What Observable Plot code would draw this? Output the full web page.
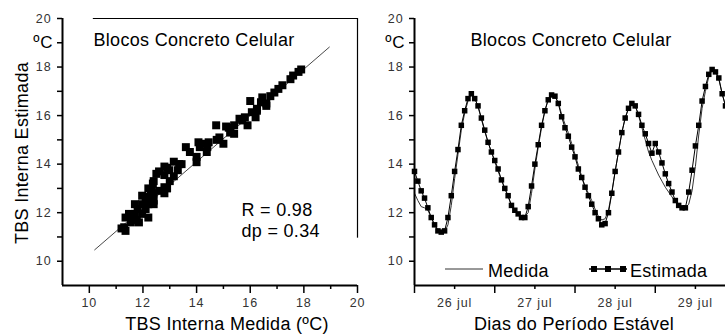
<!DOCTYPE html>
<html>
<head>
<meta charset="utf-8">
<script src="https://cdn.jsdelivr.net/npm/d3@7"></script>
<script src="https://cdn.jsdelivr.net/npm/@observablehq/plot@0.6"></script>
<style>
  html, body { margin: 0; padding: 0; background: #fff; }
  #wrap { display: flex; width: 725px; height: 336px; overflow: hidden; }
  .panel { position: relative; }
  .panel svg { display: block; }
  .legend { position: absolute; left: 0; top: 0; pointer-events: none; }
</style>
</head>
<body>
<div id="wrap">
  <div id="left" class="panel"></div>
  <div id="right" class="panel"></div>
</div>
<script>
// Indoor dry-bulb temperature (TBS, ºC), hourly from 26 jul 00h
const medida = [
  12.8, 12.5, 12.25, 12.2, 12.1, 11.8, 11.5, 11.3, 11.2, 11.2,
  11.5, 12.3, 13.4, 14.4, 15.4, 16.1, 16.6, 16.9, 16.75, 16.35,
  15.85, 15.35, 14.9, 14.5, 14.1, 13.7, 13.35, 13.0, 12.65, 12.3,
  12.05, 11.9, 11.85, 11.85, 12.0, 12.8, 13.8, 14.7, 15.5, 16.2,
  16.7, 16.85, 16.8, 16.55, 16.05, 15.65, 15.3, 14.85, 14.4, 13.95,
  13.5, 13.1, 12.8, 12.5, 12.15, 11.85, 11.7, 11.75, 12.1, 12.85,
  13.7, 14.5, 15.3, 15.9, 16.3, 16.5, 16.4, 16.0, 15.5, 15.0,
  14.5, 14.15, 13.85, 13.55, 13.3, 13.05, 12.85, 12.65, 12.45, 12.3,
  12.2, 12.2, 12.35, 12.9, 13.9, 15.2, 16.3, 17.0, 17.6, 17.9,
  17.85, 17.5, 16.9, 16.4
];
const estimada = [
  13.7, 13.3, 12.9, 12.6, 12.2, 11.8, 11.5, 11.25, 11.2, 11.25,
  11.8, 12.7, 13.7, 14.6, 15.6, 16.2, 16.7, 16.9, 16.7, 16.4,
  15.9, 15.4, 14.9, 14.5, 14.15, 13.8, 13.35, 13.0, 12.7, 12.3,
  12.1, 11.95, 11.8, 11.8, 12.25, 13.1, 14.0, 14.8, 15.6, 16.2,
  16.65, 16.85, 16.8, 16.5, 15.95, 15.5, 15.15, 14.7, 14.3, 13.8,
  13.45, 13.05, 12.7, 12.35, 12.0, 11.75, 11.5, 11.55, 12.0, 12.8,
  13.7, 14.5, 15.3, 15.9, 16.3, 16.5, 16.4, 16.05, 15.6, 15.25,
  14.85, 14.45, 14.85, 14.5, 14.05, 13.6, 13.2, 12.85, 12.5, 12.3,
  12.2, 12.2, 12.85, 13.75, 14.75, 15.6, 16.6, 17.2, 17.7, 17.9,
  17.8, 17.55, 16.9, 16.4
];

// Measured vs estimated pairs (ºC)
const scatterMedida = [
  17.9, 17.8, 17.6, 17.5, 17.2, 17.05, 16.9, 16.75, 16.45, 16.6,
  16.4, 16.0, 16.6, 16.25, 16.06, 16.2, 16.25, 15.8, 15.7, 15.9,
  15.6, 15.4, 15.2, 15.4, 15.25, 15.1, 14.73, 14.85, 15.0, 14.75,
  14.25, 14.12, 14.38, 14.45, 14.4, 14.07, 13.6, 13.75, 14.0, 14.0,
  13.44, 13.35, 13.15, 13.3, 12.98, 12.8, 12.9, 13.15, 13.0, 12.6,
  12.5, 12.4, 12.8, 12.8, 12.9, 12.6, 12.8, 12.37, 12.3, 12.2,
  12.4, 12.25, 12.4, 12.1, 11.97, 12.2, 12.4, 11.97, 11.8, 12.1,
  11.97, 12.2, 11.7, 11.7, 11.77, 11.6, 11.48, 11.35, 11.3, 11.2,
  11.35, 11.85, 11.55
];
const scatterEstimada = [
  17.9, 17.8, 17.65, 17.5, 17.25, 17.1, 16.95, 16.8, 16.75, 16.5,
  16.55, 16.6, 16.4, 16.28, 16.14, 15.93, 16.2, 15.93, 15.8, 15.6,
  15.87, 15.6, 15.5, 15.25, 15.3, 15.55, 15.6, 15.1, 14.84, 15.0,
  14.84, 14.7, 14.5, 14.9, 14.7, 14.9, 14.7, 14.5, 14.08, 14.3,
  14.0, 14.0, 14.1, 13.75, 13.75, 13.9, 13.85, 13.5, 13.3, 13.7,
  13.6, 13.3, 13.55, 13.05, 13.0, 12.9, 12.8, 13.2, 12.9, 13.0,
  12.8, 12.65, 12.5, 12.5, 12.7, 12.35, 12.35, 12.35, 12.15, 12.15,
  11.95, 11.8, 12.35, 11.95, 11.7, 11.8, 11.95, 11.8, 11.4, 11.35,
  11.25, 11.6, 11.6
];

// Fitted line endpoints (Medida, Estimada)
const fitMedida = [10.2, 18.95];
const fitEstimada = [10.47, 18.82];
const rValue = 0.98;
const dpValue = 0.34;

// Axis ticks and labels
const tempLabelTicks = [10, 12, 14, 16, 18, 20];
const tempMinorTicks = [11, 13, 15, 17];
const unitTick = [19];
const tempMinorX = [11, 13, 15, 17, 19];
const dayBounds = [0, 24, 48, 72];
const dayTicks = [12, 36, 60, 84];
const dayLabels = ["26 jul", "27 jul", "28 jul", "29 jul"];

const panelTitle = "Blocos Concreto Celular";
const font = "'Liberation Sans', Arial, Helvetica, sans-serif";
const tickFill = "#333";

const hours = medida.map((_, i) => i);
const series = hours.map((h, i) => ({h, medida: medida[i], estimada: estimada[i]}));
const pairs = scatterMedida.map((m, i) => ({m, e: scatterEstimada[i]}));

// Shared y axis (temperature) pieces
function tempAxisY() {
  return [
    Plot.axisY(tempLabelTicks, {tickSize: 5, tickPadding: 6, fontSize: 12.5, fill: tickFill, stroke: "#000", strokeWidth: 1.5, label: null}),
    Plot.axisY(tempMinorTicks, {tickSize: 5, tickFormat: () => "", stroke: "#000", strokeWidth: 1.5, label: null}),
    Plot.axisY(unitTick, {tickSize: 5, tickPadding: 4, tickFormat: () => "ºC", fontSize: 17, fill: "#000", stroke: "#000", strokeWidth: 1.5, label: null})
  ];
}

// Wider tracking for tick labels and annotation text
function track(svg) {
  d3.select(svg).selectAll('g[aria-label="x-axis tick label"] text, g[aria-label="y-axis tick label"] text')
    .attr("letter-spacing", "0.9px");
  d3.select(svg).selectAll('g[aria-label="text"] text').attr("letter-spacing", "0.3px");
  return svg;
}

// Left panel: estimated vs measured
const left = Plot.plot({
  width: 370, height: 336,
  marginLeft: 62, marginRight: 13, marginTop: 18, marginBottom: 51,
  x: {domain: [9, 20]},
  y: {domain: [9, 20]},
  style: {fontFamily: font, background: "#fff"},
  marks: [
    Plot.ruleY([20], {x1: 10.15, x2: 20, stroke: "#000", strokeWidth: 1.2}),
    Plot.ruleX([20], {y1: 10.95, y2: 20, stroke: "#000", strokeWidth: 1.2}),
    Plot.line(fitMedida, {x: fitMedida, y: fitEstimada, stroke: "#333", strokeWidth: 0.9}),
    Plot.dot(pairs, {x: "m", y: "e", symbol: "square", r: 4.5, fill: "#000", stroke: "none"}),
    Plot.axisX(tempLabelTicks, {tickSize: 8, tickPadding: 5, fontSize: 12.5, fill: tickFill, stroke: "#000", strokeWidth: 1.5, label: null}),
    Plot.axisX(tempMinorX, {tickSize: 4, tickFormat: () => "", stroke: "#000", strokeWidth: 1.5, label: null}),
    ...tempAxisY(),
    Plot.ruleX([9], {stroke: "#000", strokeWidth: 2}),
    Plot.ruleY([9], {stroke: "#000", strokeWidth: 2}),
    Plot.text([panelTitle], {frameAnchor: "top-left", dx: 31, dy: 27, lineAnchor: "bottom", textAnchor: "start", fontSize: 18, fill: "#000"}),
    Plot.text([`R = ${rValue.toFixed(2)}`], {frameAnchor: "top-left", dx: 179, dy: 197, lineAnchor: "bottom", textAnchor: "start", fontSize: 18, fill: "#000"}),
    Plot.text([`dp = ${dpValue.toFixed(2)}`], {frameAnchor: "top-left", dx: 179, dy: 218, lineAnchor: "bottom", textAnchor: "start", fontSize: 18, fill: "#000"}),
    Plot.text(["TBS Interna Medida (ºC)"], {frameAnchor: "bottom", dx: 17, dy: 44, lineAnchor: "bottom", textAnchor: "middle", fontSize: 18, fill: "#000"}),
    Plot.text(["TBS Interna Estimada"], {frameAnchor: "left", dx: -40.5, dy: 1, rotate: -90, textAnchor: "middle", fontSize: 18, fill: "#000"})
  ]
});
document.getElementById("left").appendChild(track(left));

// Right panel: time series over the stable period
const right = Plot.plot({
  width: 355, height: 336,
  marginLeft: 44, marginRight: 0, marginTop: 18, marginBottom: 51,
  x: {domain: [0, 93]},
  y: {domain: [9, 20]},
  style: {fontFamily: font, background: "#fff"},
  marks: [
    Plot.line(series, {x: "h", y: "medida", stroke: "#333", strokeWidth: 1}),
    Plot.line(series, {x: "h", y: "estimada", stroke: "#000", strokeWidth: 1}),
    Plot.dot(series, {x: "h", y: "estimada", symbol: "square", r: 3.1, fill: "#000", stroke: "none"}),
    Plot.axisX(dayBounds, {tickSize: 8, tickFormat: () => "", stroke: "#000", strokeWidth: 1.5, label: null}),
    Plot.axisX(dayTicks, {tickSize: 4, tickPadding: 9, fontSize: 12.5, fill: tickFill, stroke: "#000", strokeWidth: 1.5, label: null,
      tickFormat: (d) => dayLabels[dayTicks.indexOf(d)]}),
    ...tempAxisY(),
    Plot.ruleX([0], {stroke: "#000", strokeWidth: 2}),
    Plot.ruleY([9], {stroke: "#000", strokeWidth: 2}),
    Plot.text([panelTitle], {frameAnchor: "top-left", dx: 56, dy: 27, lineAnchor: "bottom", textAnchor: "start", fontSize: 18, fill: "#000"}),
    Plot.text(["Dias do Período Estável"], {frameAnchor: "bottom", dx: 4, dy: 44, lineAnchor: "bottom", textAnchor: "middle", fontSize: 18, fill: "#000"})
  ]
});
const rightBox = document.getElementById("right");
rightBox.appendChild(track(right));

// Legend inside the right panel
const ns = "http://www.w3.org/2000/svg";
const leg = document.createElementNS(ns, "svg");
leg.setAttribute("class", "legend");
leg.setAttribute("width", 355);
leg.setAttribute("height", 336);
leg.setAttribute("font-family", font);
leg.innerHTML = `
  <line x1="75" x2="113" y1="269" y2="269" stroke="#333" stroke-width="1"/>
  <text x="118" y="277" font-size="18" letter-spacing="0.3" fill="#000">Medida</text>
  <line x1="219" x2="257" y1="269" y2="269" stroke="#000" stroke-width="1.5"/>
  <rect x="221" y="266" width="6" height="6" fill="#000"/>
  <rect x="235" y="266" width="6" height="6" fill="#000"/>
  <rect x="250" y="266" width="6" height="6" fill="#000"/>
  <text x="260" y="277" font-size="18" letter-spacing="0.3" fill="#000">Estimada</text>`;
rightBox.appendChild(leg);
</script>
</body>
</html>
